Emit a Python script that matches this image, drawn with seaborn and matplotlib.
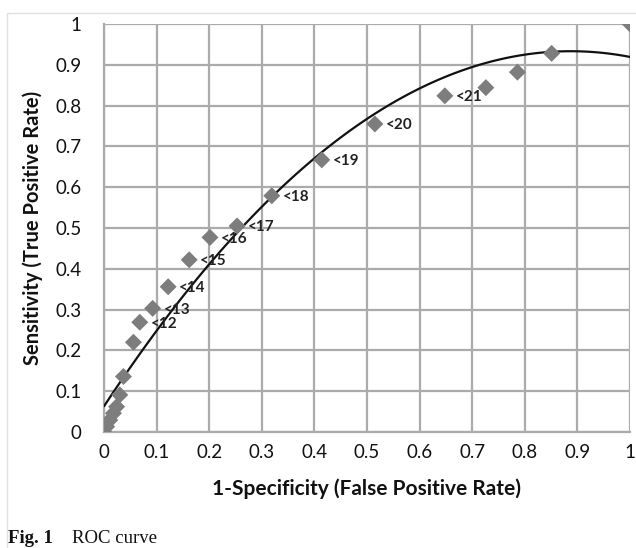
import matplotlib
matplotlib.use("Agg")
import matplotlib.pyplot as plt
import seaborn as sns
import pandas as pd
from matplotlib.patches import Rectangle

# ---- data ----
fpr = [0.0, 0.005, 0.011, 0.018, 0.024, 0.030, 0.037, 0.056, 0.068, 0.0925,
       0.122, 0.162, 0.2015, 0.253, 0.319, 0.414, 0.515, 0.648, 0.726, 0.786,
       0.851, 1.0]
tpr = [0.0, 0.013, 0.029, 0.046, 0.062, 0.091, 0.136, 0.220, 0.269, 0.303,
       0.356, 0.422, 0.477, 0.505, 0.579, 0.667, 0.755, 0.824, 0.844, 0.882,
       0.928, 1.0]
point_labels = ["", "", "", "", "", "", "", "", "<12", "<13",
                "<14", "<15", "<16", "<17", "<18", "<19", "<20", "<21", "", "",
                "", ""]
tick_values = [0, 0.1, 0.2, 0.3, 0.4, 0.5, 0.6, 0.7, 0.8, 0.9, 1]
tick_labels = ["0", "0.1", "0.2", "0.3", "0.4", "0.5", "0.6", "0.7", "0.8", "0.9", "1"]

df = pd.DataFrame({"fpr": fpr, "tpr": tpr, "label": point_labels})

sns.set_theme(style="white")
plt.rcParams["font.family"] = ["Lato", "DejaVu Sans"]

fig = plt.figure(figsize=(6.36, 5.48), dpi=100)
ax = fig.add_axes([104 / 636, 1 - 432 / 548, 526 / 636, 408 / 548])

grid_c = "#ababab"
sns.regplot(data=df, x="fpr", y="tpr", order=2, ci=None, scatter=False,
            line_kws={"color": "#111111", "lw": 1.6, "zorder": 3}, ax=ax)
sns.scatterplot(data=df, x="fpr", y="tpr", marker="D", s=75, color="#7d7d7d",
                edgecolor="none", zorder=4, ax=ax)

for _, r in df.iterrows():
    if r["label"]:
        ax.annotate(r["label"], (r["fpr"], r["tpr"]), xytext=(8, -1),
                    textcoords="offset points", ha="left", va="center",
                    fontsize=11, fontweight="bold", color="#222222", zorder=5)

ax.set_xlim(0, 1)
ax.set_ylim(0, 1)
ax.set_xticks(tick_values)
ax.set_xticklabels(tick_labels)
ax.set_yticks(tick_values)
ax.set_yticklabels(tick_labels)
ax.grid(True, color=grid_c, lw=1.6)
ax.set_axisbelow(True)
for s in ["top", "right"]:
    ax.spines[s].set_visible(False)
for s in ["left", "bottom"]:
    ax.spines[s].set_color(grid_c)
    ax.spines[s].set_linewidth(1.6)
ax.tick_params(axis="both", labelsize=13.5, colors="#111111", length=5,
               width=1.2, color=grid_c, direction="out")
ax.tick_params(axis="x", pad=9, length=0)
ax.tick_params(axis="y", pad=11)
for t in ax.get_xticklabels() + ax.get_yticklabels():
    t.set_color("#111111")

ax.set_xlabel("1-Specificity (False Positive Rate)", fontsize=15,
              fontweight="bold", color="#111111", labelpad=12)
ax.set_ylabel("Sensitivity (True Positive Rate)", fontsize=14.5,
              fontweight="bold", color="#111111", labelpad=9)

# light frame of the chart area
fig.patches.append(Rectangle((7 / 636, -0.1), 1.2, 1 - 13 / 548 + 0.1,
                             transform=fig.transFigure, fill=False,
                             edgecolor="#e0e0e0", lw=1))

fig.text(8 / 636, 1 - 543 / 548, "Fig. 1", fontsize=13.5, fontweight="bold",
         family=["Liberation Serif"], va="baseline", ha="left", color="#111111")
fig.text(72 / 636, 1 - 543 / 548, "ROC curve", fontsize=13.5,
         family=["Liberation Serif"], va="baseline", ha="left", color="#111111")

fig.savefig("out.png", dpi=100)
